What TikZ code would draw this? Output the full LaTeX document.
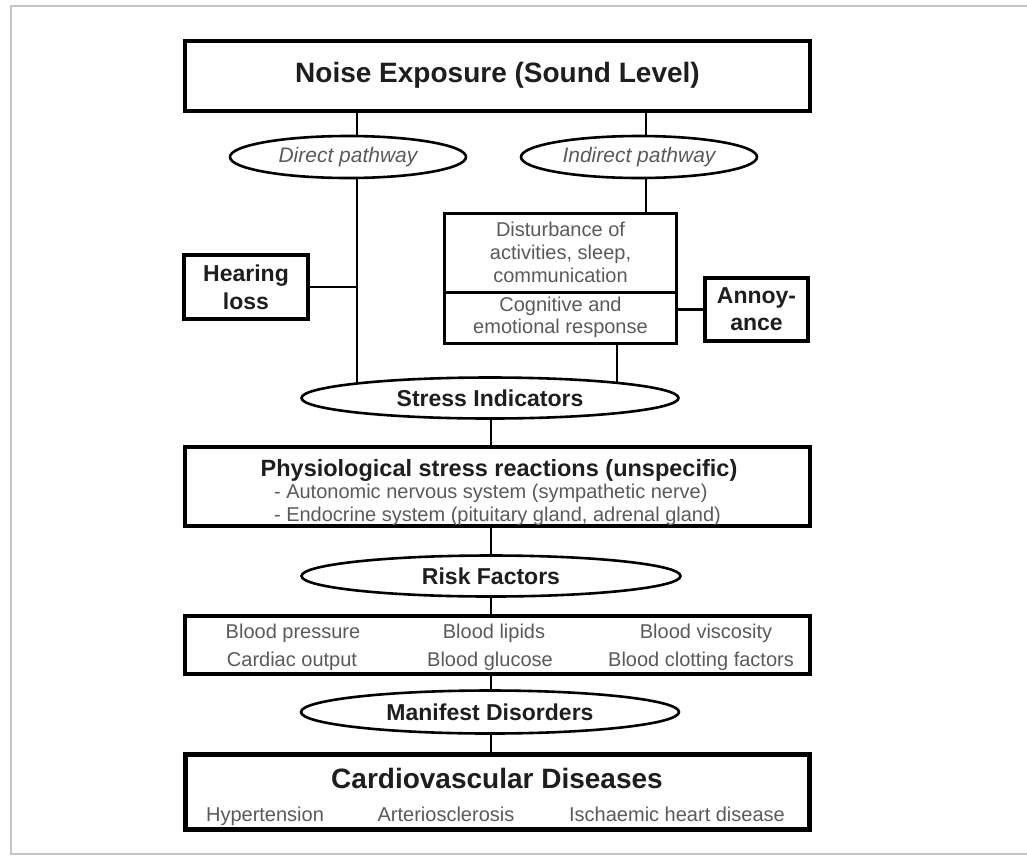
\documentclass[tikz,border=0pt]{standalone}
\usepackage{fontspec}
\setmainfont{Liberation Sans}
\usetikzlibrary{shapes.geometric,backgrounds}
\pgfdeclarelayer{bgfill}
\pgfsetlayers{bgfill,background,main}
\definecolor{txtgray}{HTML}{5A5A5A}
\definecolor{dark}{HTML}{1E1E1E}
\begin{document}
\begin{tikzpicture}[x=1pt,y=-1pt,
  box/.style={draw=black, rectangle, line width=4pt, inner sep=0pt, fill=white},
  oval/.style={draw=black, ellipse, line width=2.6pt, inner sep=0pt, fill=white},
  conn/.style={draw=black, line width=2.7pt},
  bigb/.style={font=\fontsize{28}{32}\selectfont\bfseries, text=dark},
  midb/.style={font=\fontsize{23}{27}\selectfont\bfseries, text=dark},
  reg/.style={font=\fontsize{20}{22}\selectfont, text=txtgray},
  ital/.style={font=\fontsize{21}{24}\selectfont\itshape, text=txtgray},
  lbl/.style={anchor=base, inner sep=0pt},
]
\useasboundingbox (0,0) rectangle (1027,863);
\begin{pgfonlayer}{bgfill}
\fill[white] (0,0) rectangle (1027,863);
\draw[gray!45, line width=1.2pt] (1027,6) -- (11,6) -- (11,854) -- (1027,854);
\end{pgfonlayer}

% nodes
\node[box, minimum width=625pt, minimum height=70pt, bigb] (top) at (497.5,75.5) {Noise Exposure (Sound Level)};
\node[oval, minimum width=236pt, minimum height=42pt, ital] (direct) at (348,157) {Direct pathway};
\node[oval, minimum width=236pt, minimum height=42pt, ital] (indirect) at (639,157) {Indirect pathway};
\node[box, minimum width=124pt, minimum height=64pt, midb, align=center, font=\fontsize{23}{28}\selectfont\bfseries] (hearing) at (246,287) {Hearing\\loss};
\node[box, line width=3pt, minimum width=232pt, minimum height=79pt, reg, align=center, font=\fontsize{20}{23}\selectfont] (dist) at (560.5,252.5) {Disturbance of\\activities, sleep,\\communication};
\node[box, line width=3pt, minimum width=232pt, minimum height=51pt, reg, align=center] (cog) at (560.5,317.5) {Cognitive and\\emotional response};
\node[box, minimum width=103pt, minimum height=63pt, midb, align=center] (annoy) at (756.5,309.5) {Annoy-\\ance};
\node[oval, minimum width=377pt, minimum height=41pt, midb] (stress) at (490,398) {Stress Indicators};
\node[box, minimum width=625pt, minimum height=79pt] (phys) at (497.5,486.5) {};
\node[lbl, font=\fontsize{23.5}{26}\selectfont\bfseries, text=dark] (ptitle) at (499,476) {Physiological stress reactions (unspecific)};
\node[anchor=north, inner sep=0pt, font=\fontsize{20}{23}\selectfont, text=txtgray, align=left] (plist) at (497.5,484)
  {- Autonomic nervous system (sympathetic nerve)\\- Endocrine system (pituitary gland, adrenal gland)};
\node[oval, minimum width=379pt, minimum height=41pt, midb] (risk) at (491,576) {Risk Factors};
\node[box, line width=3.5pt, minimum width=625pt, minimum height=58pt] (blood) at (497.5,645) {};
\node[lbl, reg] (b1) at (293,638) {Blood pressure};
\node[lbl, reg] (b2) at (494,638) {Blood lipids};
\node[lbl, reg] (b3) at (706,638) {Blood viscosity};
\node[lbl, reg] (b4) at (292,666) {Cardiac output};
\node[lbl, reg] (b5) at (490,666) {Blood glucose};
\node[lbl, reg] (b6) at (701,666) {Blood clotting factors};
\node[oval, minimum width=378pt, minimum height=43pt, midb] (manifest) at (490,712) {Manifest Disorders};
\node[box, line width=4.5pt, minimum width=624pt, minimum height=75pt] (cardio) at (497.5,792) {};
\node[lbl, bigb] (ctitle) at (497,788) {Cardiovascular Diseases};
\node[lbl, reg] (c1) at (265,821) {Hypertension};
\node[lbl, reg] (c2) at (446,821) {Arteriosclerosis};
\node[lbl, reg] (c3) at (677,821) {Ischaemic heart disease};

% connectors
\coordinate (dx) at (357,0);
\coordinate (ix) at (646,0);
\coordinate (cx) at (617,0);
\coordinate (mx) at (491,0);
\begin{pgfonlayer}{background}
\draw[conn] (dx |- top.south) -- (dx |- direct.center);
\draw[conn] (dx |- direct.center) -- (dx |- stress.center);
\draw[conn] (ix |- top.south) -- (ix |- indirect.center);
\draw[conn] (ix |- indirect.center) -- (ix |- dist.north);
\draw[conn] (hearing.east) -- (dx |- hearing.east);
\draw[conn] (cx |- cog.south) -- (cx |- stress.center);
\draw[conn] (annoy.west) -- (annoy.west -| cog.east);
\draw[conn] (mx |- stress.center) -- (mx |- phys.north);
\draw[conn] (mx |- phys.south) -- (mx |- risk.center);
\draw[conn] (mx |- risk.center) -- (mx |- blood.north);
\draw[conn] (mx |- blood.south) -- (mx |- manifest.center);
\draw[conn] (mx |- manifest.center) -- (mx |- cardio.north);
\end{pgfonlayer}
\end{tikzpicture}
\end{document}
